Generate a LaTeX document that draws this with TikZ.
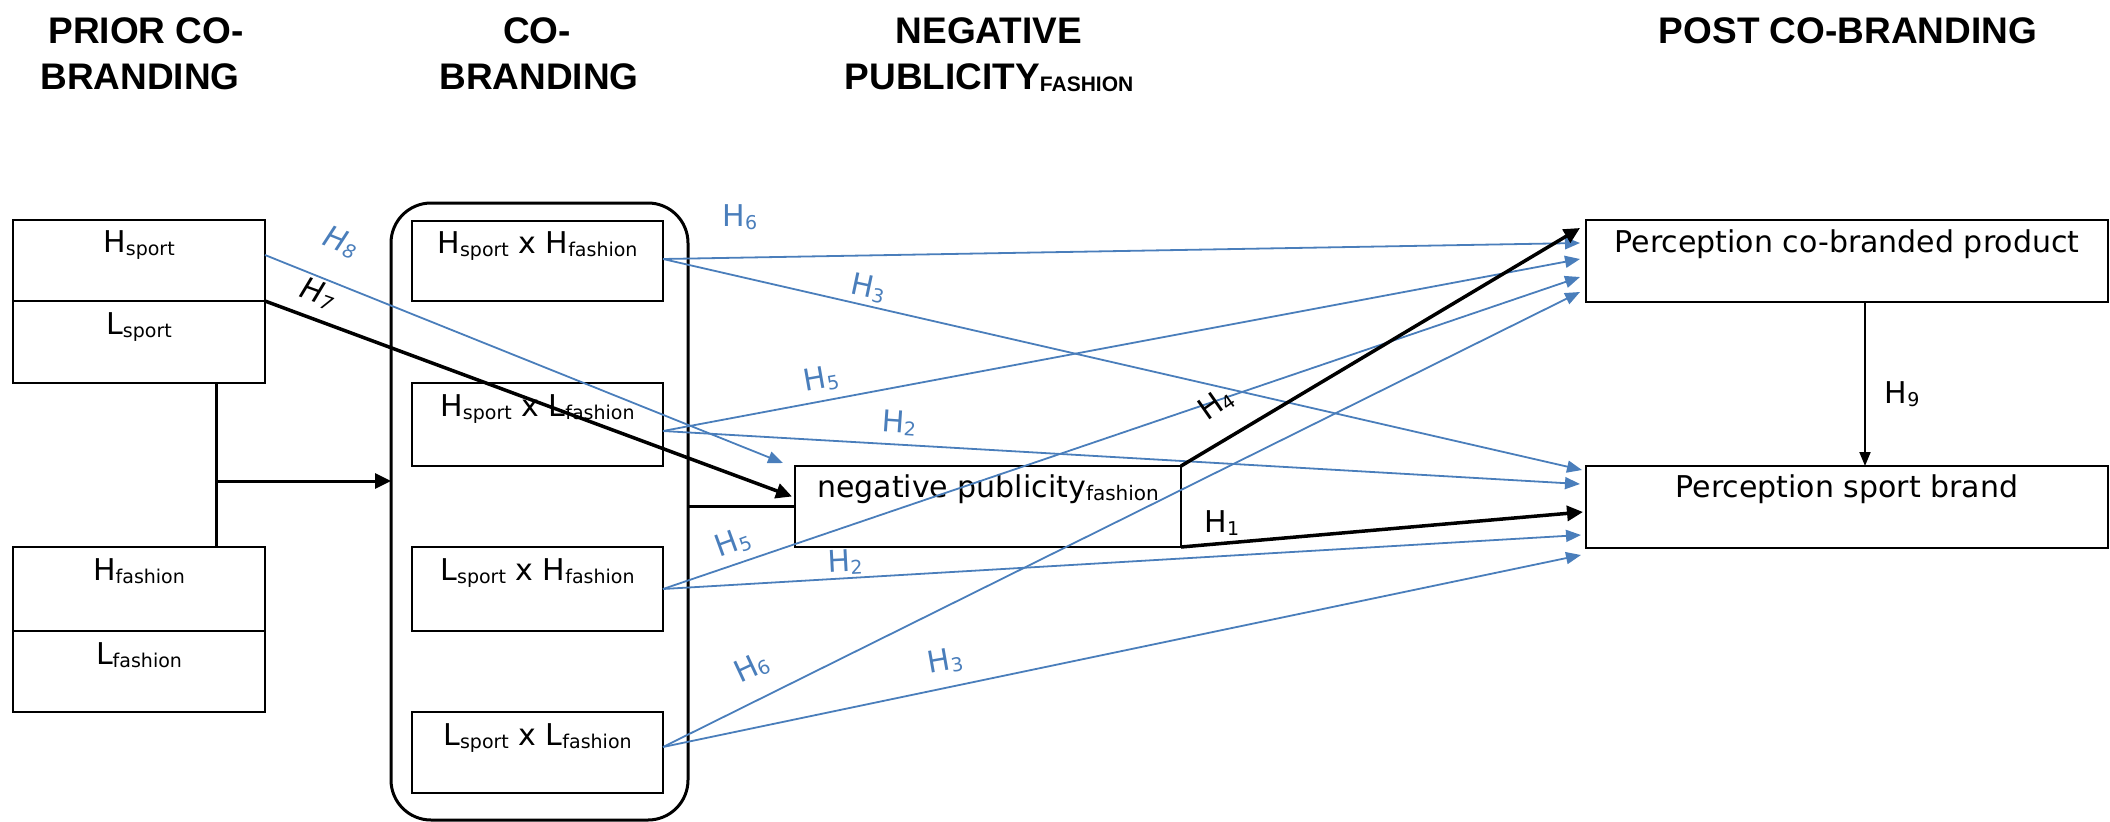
\documentclass[tikz,border=0pt]{standalone}
\usepackage{fontspec}
\setmainfont{DejaVu Sans}
\newfontfamily\hdrfont{Liberation Sans}
\usetikzlibrary{arrows.meta,calc}
\definecolor{lnblue}{RGB}{74,126,187}
\newcommand\sbx[1]{\raisebox{-3pt}{\fontsize{19}{19}\selectfont #1}}
\newcommand\npsub[1]{\raisebox{-3pt}{\fontsize{20}{20}\selectfont #1}}
\newcommand\hdsub[1]{\raisebox{-2pt}{\fontsize{21}{21}\selectfont #1}}
\begin{document}
\begin{tikzpicture}[x=1pt,y=-1pt,
  box/.style={draw, line width=2pt, rectangle, inner sep=0pt, outer sep=0pt, anchor=north west},
  boxtxt/.style={anchor=base, inner sep=0pt, font=\fontsize{30}{36}\selectfont},
  hdr/.style={anchor=base, inner sep=0pt, font=\hdrfont\bfseries\fontsize{37}{44}\selectfont},
  bl/.style={draw=lnblue, line width=1.8pt, -{Triangle[length=15pt,width=12pt]}},
  bk/.style={draw=black, line width=3.5pt, -{Triangle[length=16pt,width=15pt]}},
  thinbk/.style={draw=black, line width=2pt, -{Triangle[length=14pt,width=11pt]}},
  lblb/.style={text=lnblue, inner sep=0pt, font=\fontsize{30}{36}\selectfont},
  lblk/.style={text=black, inner sep=0pt, font=\fontsize{30}{36}\selectfont}]
\useasboundingbox (0,0) rectangle (2110,822);

% headers
\node[hdr] (t1a) at (146,43.5) {PRIOR CO-};
\node[hdr] (t1b) at (140,89.5) {BRANDING};
\node[hdr] (t2a) at (537,43.5) {CO-};
\node[hdr] (t2b) at (539,89.5) {BRANDING};
\node[hdr] (t3a) at (989,43.5) {NEGATIVE};
\node[hdr] (t3b) at (989,89.5) {PUBLICITY\hdsub{FASHION}};
\node[hdr] (t4a) at (1848,43.5) {POST CO-BRANDING};

% prior co-branding boxes
\node[box, minimum width=252, minimum height=81] (hs) at (13,220) {};
\node[box, minimum width=252, minimum height=82] (ls) at (13,301) {};
\node[box, minimum width=252, minimum height=84] (hf) at (13,547) {};
\node[box, minimum width=252, minimum height=81] (lf) at (13,631) {};
\node[boxtxt] (hst) at ([yshift=-32pt]hs.north) {H\sbx{sport}};
\node[boxtxt] (lst) at ([yshift=-33pt]ls.north) {L\sbx{sport}};
\node[boxtxt] (hft) at ([yshift=-33pt]hf.north) {H\sbx{fashion}};
\node[boxtxt] (lft) at ([yshift=-33pt]lf.north) {L\sbx{fashion}};

% co-branding container and boxes
\node[box, line width=3pt, rounded corners=40pt, minimum width=297, minimum height=617] (cont) at (391,203) {};
\node[box, minimum width=251, minimum height=80] (hh) at (412,221) {};
\node[box, minimum width=251, minimum height=83] (hl) at (412,383) {};
\node[box, minimum width=251, minimum height=84] (lh) at (412,547) {};
\node[box, minimum width=251, minimum height=81] (ll) at (412,712) {};
\node[boxtxt] (hht) at ([yshift=-32pt]hh.north) {H\sbx{sport} x H\sbx{fashion}};
\node[boxtxt] (hlt) at ([yshift=-33pt]hl.north) {H\sbx{sport} x L\sbx{fashion}};
\node[boxtxt] (lht) at ([yshift=-33pt]lh.north) {L\sbx{sport} x H\sbx{fashion}};
\node[boxtxt] (llt) at ([yshift=-33pt]ll.north) {L\sbx{sport} x L\sbx{fashion}};

% negative publicity
\node[box, minimum width=386, minimum height=81] (np) at (795,466) {};
\node[boxtxt] (npt) at ([yshift=-31pt]np.north) {negative publicity\npsub{fashion}};

% post co-branding
\node[box, minimum width=522, minimum height=82] (cbp) at (1586,220) {};
\node[box, minimum width=522, minimum height=82] (psb) at (1586,466) {};
\node[boxtxt] (cbpt) at ([yshift=-32pt]cbp.north) {Perception co-branded product};
\node[boxtxt] (psbt) at ([yshift=-31pt]psb.north) {Perception sport brand};

% prior -> co-branding
\draw[line width=3pt] ([xshift=-49pt]ls.south east) -- ([xshift=-49pt]hf.north east);
\coordinate (jn) at (216,481);
\draw[bk, line width=3pt] (jn) -- (jn -| cont.west);

% co-branding -> negative publicity
\draw[line width=3.5pt] (np.west -| cont.east) -- (np.west);

% H8 and H7
\draw[bl] ([yshift=-35pt]hs.north east) -- ([xshift=-12pt,yshift=3pt]np.north west);
\draw[bk] (ls.north east) -- ([xshift=-3pt,yshift=10pt]np.west);

% blue hypotheses
\draw[bl] ([yshift=-38pt]hh.north east) -- ([xshift=-6pt,yshift=-23pt]cbp.north west);
\draw[bl] ([yshift=-38pt]hh.north east) -- ([xshift=-4pt,yshift=-4pt]psb.north west);
\draw[bl] ([yshift=-48pt]hl.north east) -- ([xshift=-6pt,yshift=-39pt]cbp.north west);
\draw[bl] ([yshift=-48pt]hl.north east) -- ([xshift=-6pt,yshift=-18pt]psb.north west);
\draw[bl] ([yshift=-42pt]lh.north east) -- ([xshift=-6pt,yshift=-57pt]cbp.north west);
\draw[bl] ([yshift=-42pt]lh.north east) -- ([xshift=-5pt,yshift=-69pt]psb.north west);
\draw[bl] ([yshift=-35pt]ll.north east) -- ([xshift=-6pt,yshift=-72pt]cbp.north west);
\draw[bl] ([yshift=-35pt]ll.north east) -- ([xshift=-5pt,yshift=-89pt]psb.north west);

% black hypotheses
\draw[bk] (np.north east) -- ([xshift=-6pt,yshift=-8pt]cbp.north west);
\draw[bk] (np.south east) -- ([xshift=-3pt,yshift=-46pt]psb.north west);
\draw[thinbk] ([xshift=18pt]cbp.south) -- ([xshift=18pt]psb.north);

% labels
\node[lblb, rotate=-22] (l8) at (341,242) {\itshape H\sbx{8}};
\node[lblk, rotate=-20] (l7) at (318,294) {\itshape H\sbx{7}};
\node[lblb] (l6a) at (740,217) {H\sbx{6}};
\node[lblb, rotate=-12] (l3a) at (868,288) {H\sbx{3}};
\node[lblb, rotate=10] (l5a) at (821,379) {H\sbx{5}};
\node[lblb, rotate=-4] (l2a) at (899,423) {H\sbx{2}};
\node[lblb, rotate=20] (l5b) at (733,543) {H\sbx{5}};
\node[lblb, rotate=3] (l2b) at (845,562) {H\sbx{2}};
\node[lblb, rotate=25] (l6b) at (752,668) {H\sbx{6}};
\node[lblb, rotate=10] (l3b) at (945,661) {H\sbx{3}};
\node[lblk, rotate=35] (l4) at (1216,404) {H\sbx{4}};
\node[lblk] (l1) at (1222,523) {H\sbx{1}};
\node[lblk] (l9) at (1902,394) {H\sbx{9}};
\end{tikzpicture}
\end{document}
